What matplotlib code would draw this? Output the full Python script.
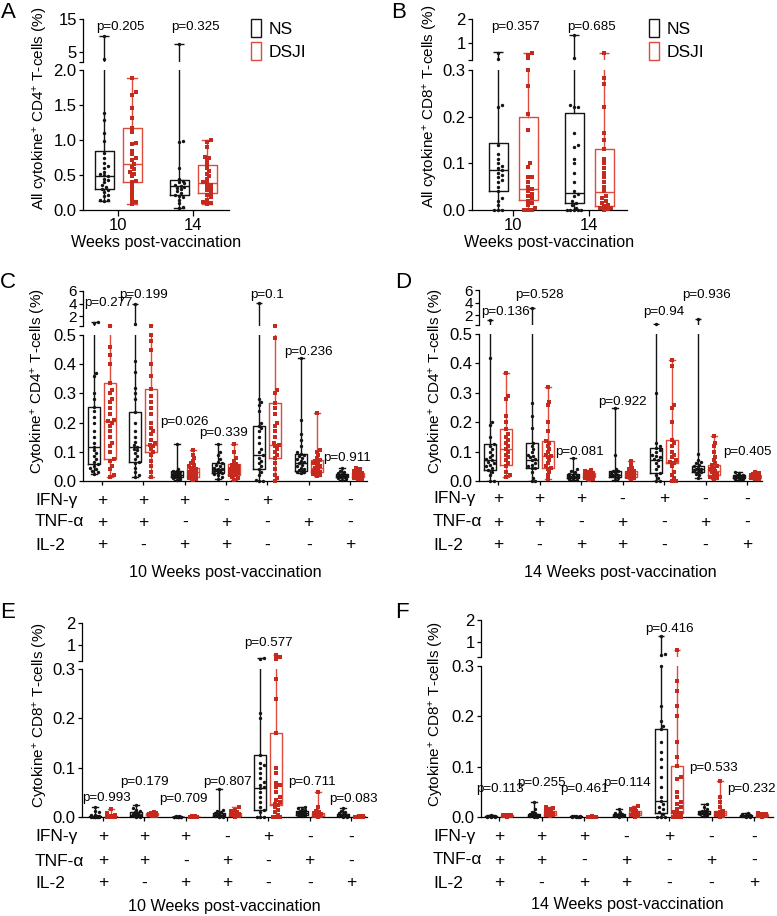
import numpy as np
import matplotlib
matplotlib.use('Agg')
import matplotlib.pyplot as plt
from matplotlib.patches import Patch
import matplotlib.transforms as mtransforms

plt.rcParams['font.family'] = ['Liberation Sans', 'DejaVu Sans']
plt.rcParams['mathtext.fontset'] = 'custom'
plt.rcParams['mathtext.rm'] = 'Liberation Sans'
plt.rcParams['mathtext.it'] = 'Liberation Sans:italic'
plt.rcParams['mathtext.bf'] = 'Liberation Sans:bold'
plt.rcParams['axes.linewidth'] = 0.9

# ------------------------------------------------------------------ data
series_names = ['NS', 'DSJI']

# Panel A : all cytokine+ CD4+ T-cells
A_groups = ['10', '14']
A_yticks = ['0.0', '0.5', '1.0', '1.5', '2.0']
A_top_ticks = ['5', '15']
A_NS_box = [[0.13, 0.30, 0.49, 0.84, 9.8], [0.025, 0.22, 0.34, 0.43, 7.4]]
A_DSJI_box = [[0.09, 0.40, 0.66, 1.17, 1.88], [0.09, 0.24, 0.38, 0.64, 1.0]]
A_NS_pts = [
    [0.13, 0.14, 0.15, 0.2, 0.22, 0.26, 0.28, 0.3, 0.33, 0.36, 0.4, 0.43, 0.45, 0.48,
     0.5, 0.52, 0.55, 0.6, 0.63, 0.67, 0.74, 0.81, 0.99, 1.1, 1.29, 1.39, 2.9, 9.8],
    [0.025, 0.05, 0.1, 0.15, 0.18, 0.2, 0.22, 0.24, 0.27, 0.3, 0.32, 0.33, 0.35, 0.36,
     0.38, 0.4, 0.42, 0.45, 0.6, 0.97, 0.98, 7.4]]
A_DSJI_pts = [
    [0.09, 0.12, 0.15, 0.2, 0.25, 0.3, 0.35, 0.4, 0.42, 0.48, 0.52, 0.55, 0.58, 0.62,
     0.66, 0.72, 0.75, 0.8, 0.85, 0.95, 0.96, 1.12, 1.17, 1.31, 1.46, 1.65, 1.68, 1.88],
    [0.09, 0.1, 0.12, 0.15, 0.18, 0.22, 0.25, 0.28, 0.3, 0.33, 0.36, 0.38, 0.4, 0.44,
     0.48, 0.52, 0.56, 0.6, 0.65, 0.7, 0.74, 0.76, 0.9, 0.97, 1.0]]
A_p = ['p=0.205', 'p=0.325']

# Panel B : all cytokine+ CD8+ T-cells
B_groups = ['10', '14']
B_yticks = ['0.0', '0.1', '0.2', '0.3']
B_top_ticks = ['1', '2']
B_NS_box = [[0.0, 0.041, 0.086, 0.143, 0.62], [0.0, 0.014, 0.037, 0.207, 1.34]]
B_DSJI_box = [[0.0, 0.021, 0.046, 0.199, 0.59], [0.0, 0.009, 0.038, 0.131, 0.59]]
B_NS_pts = [
    [0.0, 0.0, 0.0, 0.01, 0.02, 0.025, 0.04, 0.05, 0.06, 0.065, 0.07, 0.075, 0.08, 0.085,
     0.09, 0.095, 0.1, 0.11, 0.12, 0.14, 0.22, 0.225, 0.36, 0.6],
    [0.0, 0.0, 0.0, 0.0, 0.0, 0.005, 0.01, 0.015, 0.02, 0.03, 0.035, 0.04, 0.06, 0.08,
     0.1, 0.11, 0.135, 0.14, 0.165, 0.22, 0.22, 0.224, 0.38, 1.34]]
B_DSJI_pts = [
    [0.0, 0.0, 0.0, 0.005, 0.01, 0.015, 0.02, 0.025, 0.03, 0.035, 0.04, 0.045, 0.05, 0.06,
     0.07, 0.07, 0.093, 0.1, 0.171, 0.205, 0.266, 0.3, 0.38, 0.52, 0.59],
    [0.0, 0.002, 0.005, 0.005, 0.008, 0.01, 0.015, 0.02, 0.025, 0.03, 0.04, 0.05, 0.06,
     0.07, 0.08, 0.09, 0.1, 0.11, 0.13, 0.15, 0.165, 0.22, 0.27, 0.282, 0.59]]
B_p = ['p=0.357', 'p=0.685']

# Cytokine combinations (panels C-F)
cytokine_rows = ['IFN-γ', 'TNF-α', 'IL-2']
IFN_signs = ['+', '+', '+', '-', '+', '-', '-']
TNF_signs = ['+', '+', '-', '+', '-', '+', '-']
IL2_signs = ['+', '-', '+', '+', '-', '-', '+']
CD4_yticks = ['0.0', '0.1', '0.2', '0.3', '0.4', '0.5']
CD4_top_ticks = ['2', '4', '6']
CD8_yticks = ['0.0', '0.1', '0.2', '0.3']
CD8_top_ticks = ['1', '2']

# Panel C : CD4, 10 weeks
C_NS_box = [[0.025, 0.057, 0.117, 0.252, 1.1], [0.015, 0.065, 0.117, 0.237, 3.9],
            [0.005, 0.014, 0.021, 0.033, 0.126], [0.008, 0.028, 0.04, 0.06, 0.128],
            [0.0, 0.04, 0.088, 0.19, 4.1], [0.028, 0.035, 0.06, 0.093, 0.42],
            [0.005, 0.012, 0.017, 0.024, 0.045]]
C_DSJI_box = [[0.014, 0.077, 0.206, 0.334, 0.55], [0.014, 0.1, 0.122, 0.315, 0.55],
              [0.003, 0.013, 0.03, 0.045, 0.105], [0.005, 0.022, 0.035, 0.058, 0.127],
              [0.0, 0.08, 0.122, 0.268, 0.55], [0.016, 0.03, 0.045, 0.072, 0.233],
              [0.006, 0.012, 0.018, 0.027, 0.045]]
C_NS_pts = [
    [0.025, 0.03, 0.035, 0.04, 0.045, 0.05, 0.057, 0.065, 0.075, 0.085, 0.095, 0.105, 0.117,
     0.13, 0.15, 0.17, 0.2, 0.22, 0.24, 0.252, 0.28, 0.3, 0.36, 0.37, 1.0, 1.1],
    [0.015, 0.02, 0.03, 0.045, 0.06, 0.065, 0.075, 0.085, 0.095, 0.105, 0.11, 0.117, 0.125,
     0.135, 0.15, 0.17, 0.2, 0.237, 0.28, 0.3, 0.32, 0.375, 0.41, 0.75, 3.9],
    [0.005, 0.008, 0.01, 0.012, 0.014, 0.015, 0.016, 0.018, 0.02, 0.021, 0.022, 0.024, 0.025,
     0.027, 0.03, 0.032, 0.033, 0.035, 0.04, 0.126],
    [0.008, 0.015, 0.02, 0.025, 0.028, 0.03, 0.033, 0.035, 0.038, 0.04, 0.042, 0.045, 0.05,
     0.055, 0.06, 0.065, 0.075, 0.09, 0.1, 0.128],
    [0.0, 0.0, 0.005, 0.02, 0.03, 0.04, 0.05, 0.06, 0.07, 0.08, 0.088, 0.1, 0.11, 0.13, 0.15,
     0.17, 0.18, 0.19, 0.2, 0.24, 0.26, 0.27, 0.28, 4.1],
    [0.028, 0.03, 0.032, 0.035, 0.038, 0.04, 0.045, 0.05, 0.055, 0.06, 0.065, 0.07, 0.075,
     0.08, 0.085, 0.09, 0.093, 0.1, 0.12, 0.14, 0.16, 0.21, 0.42],
    [0.005, 0.008, 0.01, 0.012, 0.013, 0.015, 0.016, 0.017, 0.018, 0.02, 0.022, 0.024, 0.027,
     0.03, 0.035, 0.045]]
C_DSJI_pts = [
    [0.014, 0.02, 0.04, 0.05, 0.07, 0.077, 0.1, 0.12, 0.13, 0.15, 0.17, 0.19, 0.2, 0.206,
     0.21, 0.23, 0.25, 0.27, 0.28, 0.3, 0.31, 0.334, 0.4, 0.43, 0.46, 0.55],
    [0.014, 0.03, 0.05, 0.07, 0.09, 0.1, 0.11, 0.12, 0.122, 0.13, 0.14, 0.16, 0.17, 0.18,
     0.2, 0.23, 0.25, 0.27, 0.29, 0.315, 0.36, 0.4, 0.45, 0.48, 0.5, 0.55],
    [0.003, 0.008, 0.01, 0.013, 0.015, 0.018, 0.02, 0.025, 0.028, 0.03, 0.032, 0.035, 0.04,
     0.042, 0.045, 0.05, 0.055, 0.06, 0.07, 0.08, 0.09, 0.105],
    [0.005, 0.01, 0.015, 0.02, 0.022, 0.025, 0.028, 0.03, 0.035, 0.038, 0.04, 0.045, 0.05,
     0.055, 0.058, 0.07, 0.08, 0.1, 0.127],
    [0.0, 0.01, 0.02, 0.04, 0.06, 0.08, 0.09, 0.1, 0.11, 0.12, 0.122, 0.13, 0.15, 0.17, 0.19,
     0.2, 0.23, 0.25, 0.268, 0.3, 0.31, 0.49, 0.55],
    [0.016, 0.02, 0.025, 0.03, 0.032, 0.035, 0.04, 0.045, 0.05, 0.055, 0.06, 0.065, 0.07,
     0.072, 0.08, 0.09, 0.1, 0.105, 0.233],
    [0.006, 0.008, 0.01, 0.012, 0.014, 0.016, 0.018, 0.02, 0.022, 0.025, 0.027, 0.03, 0.035,
     0.04, 0.045]]
C_p = ['p=0.277', 'p=0.199', 'p=0.026', 'p=0.339', 'p=0.1', 'p=0.236', 'p=0.911']

# Panel D : CD4, 14 weeks
D_NS_box = [[0.0, 0.039, 0.07, 0.125, 1.25], [0.0, 0.043, 0.07, 0.13, 3.15],
            [0.002, 0.01, 0.015, 0.025, 0.078], [0.003, 0.015, 0.02, 0.033, 0.249],
            [0.0, 0.027, 0.07, 0.112, 0.7], [0.01, 0.03, 0.04, 0.05, 1.5],
            [0.004, 0.01, 0.014, 0.02, 0.03]]
D_DSJI_box = [[0.012, 0.053, 0.11, 0.178, 0.366], [0.008, 0.043, 0.085, 0.136, 0.32],
              [0.005, 0.012, 0.018, 0.028, 0.038], [0.006, 0.015, 0.023, 0.035, 0.068],
              [0.0, 0.061, 0.065, 0.141, 0.41], [0.006, 0.022, 0.035, 0.055, 0.153],
              [0.006, 0.011, 0.015, 0.022, 0.03]]
D_NS_pts = [
    [0.0, 0.0, 0.02, 0.03, 0.039, 0.045, 0.05, 0.055, 0.06, 0.065, 0.07, 0.075, 0.08, 0.09,
     0.1, 0.11, 0.12, 0.125, 0.15, 0.19, 0.2, 0.42, 1.25],
    [0.0, 0.0, 0.01, 0.03, 0.043, 0.045, 0.05, 0.055, 0.06, 0.07, 0.075, 0.08, 0.085, 0.09,
     0.1, 0.11, 0.12, 0.13, 0.18, 0.22, 0.265, 3.15],
    [0.002, 0.005, 0.008, 0.01, 0.012, 0.014, 0.015, 0.017, 0.02, 0.022, 0.025, 0.03, 0.035,
     0.04, 0.078],
    [0.003, 0.01, 0.015, 0.018, 0.02, 0.022, 0.025, 0.028, 0.03, 0.033, 0.035, 0.04, 0.09,
     0.249],
    [0.0, 0.0, 0.01, 0.02, 0.027, 0.04, 0.05, 0.06, 0.07, 0.075, 0.08, 0.085, 0.09, 0.1,
     0.105, 0.112, 0.12, 0.13, 0.3, 0.7],
    [0.01, 0.02, 0.025, 0.03, 0.032, 0.035, 0.038, 0.04, 0.042, 0.045, 0.05, 0.055, 0.06,
     0.065, 0.07, 0.092, 1.5],
    [0.004, 0.006, 0.008, 0.01, 0.012, 0.013, 0.014, 0.016, 0.018, 0.02, 0.022, 0.025, 0.03]]
D_DSJI_pts = [
    [0.012, 0.02, 0.03, 0.05, 0.06, 0.07, 0.08, 0.09, 0.1, 0.11, 0.12, 0.13, 0.14, 0.15,
     0.16, 0.178, 0.2, 0.22, 0.28, 0.29, 0.366],
    [0.008, 0.02, 0.03, 0.04, 0.045, 0.05, 0.06, 0.07, 0.08, 0.085, 0.09, 0.1, 0.11, 0.12,
     0.13, 0.136, 0.17, 0.2, 0.26, 0.27, 0.32],
    [0.005, 0.008, 0.01, 0.012, 0.014, 0.016, 0.018, 0.02, 0.022, 0.025, 0.028, 0.03, 0.035,
     0.038],
    [0.006, 0.01, 0.015, 0.018, 0.02, 0.022, 0.025, 0.028, 0.03, 0.035, 0.04, 0.045, 0.055,
     0.068],
    [0.0, 0.0, 0.01, 0.02, 0.03, 0.05, 0.06, 0.065, 0.07, 0.08, 0.09, 0.1, 0.12, 0.13, 0.141,
     0.2, 0.25, 0.26, 0.39, 0.41],
    [0.006, 0.01, 0.015, 0.02, 0.025, 0.03, 0.035, 0.04, 0.045, 0.05, 0.055, 0.06, 0.07,
     0.08, 0.1, 0.12, 0.13, 0.153],
    [0.006, 0.008, 0.01, 0.011, 0.013, 0.015, 0.017, 0.019, 0.022, 0.025, 0.028, 0.03]]
D_p = ['p=0.136', 'p=0.528', 'p=0.081', 'p=0.922', 'p=0.94', 'p=0.936', 'p=0.405']

# Panel E : CD8, 10 weeks
E_NS_box = [[0.0, 0.0, 0.001, 0.003, 0.02], [0.0, 0.002, 0.005, 0.01, 0.025],
            [0.0, 0.0, 0.0005, 0.001, 0.002], [0.0, 0.002, 0.004, 0.008, 0.056],
            [0.0, 0.015, 0.058, 0.126, 0.45], [0.002, 0.005, 0.008, 0.012, 0.02],
            [0.0, 0.001, 0.003, 0.006, 0.019]]
E_DSJI_box = [[0.0, 0.0, 0.001, 0.003, 0.017], [0.002, 0.004, 0.006, 0.008, 0.01],
              [0.0, 0.0, 0.0005, 0.001, 0.002], [0.0, 0.002, 0.005, 0.009, 0.02],
              [0.0, 0.024, 0.027, 0.171, 0.55], [0.0, 0.003, 0.006, 0.009, 0.05],
              [0.0, 0.001, 0.001, 0.002, 0.003]]
E_NS_pts = [
    [0.0, 0.0, 0.0, 0.0, 0.001, 0.001, 0.002, 0.003, 0.004, 0.005, 0.01, 0.012, 0.02],
    [0.0, 0.001, 0.002, 0.003, 0.004, 0.005, 0.006, 0.007, 0.008, 0.01, 0.012, 0.015, 0.018,
     0.025],
    [0.0, 0.0, 0.0, 0.0005, 0.0005, 0.001, 0.001, 0.001, 0.0015, 0.002],
    [0.0, 0.001, 0.002, 0.003, 0.004, 0.005, 0.006, 0.008, 0.01, 0.012, 0.015, 0.056],
    [0.0, 0.0, 0.0, 0.01, 0.015, 0.02, 0.03, 0.04, 0.05, 0.058, 0.06, 0.065, 0.07, 0.08,
     0.09, 0.1, 0.105, 0.11, 0.126, 0.2, 0.21, 0.38, 0.45],
    [0.002, 0.004, 0.005, 0.006, 0.007, 0.008, 0.009, 0.01, 0.011, 0.012, 0.014, 0.016,
     0.018, 0.02],
    [0.0, 0.001, 0.002, 0.003, 0.004, 0.005, 0.006, 0.008, 0.01, 0.012, 0.019]]
E_DSJI_pts = [
    [0.0, 0.0, 0.0, 0.001, 0.002, 0.003, 0.005, 0.008, 0.017],
    [0.002, 0.003, 0.004, 0.005, 0.005, 0.006, 0.006, 0.007, 0.007, 0.008, 0.008, 0.009,
     0.01],
    [0.0, 0.0, 0.0, 0.0005, 0.0005, 0.001, 0.001, 0.001, 0.0015, 0.002],
    [0.0, 0.002, 0.004, 0.005, 0.006, 0.008, 0.01, 0.012, 0.015, 0.02],
    [0.0, 0.0, 0.0, 0.005, 0.01, 0.015, 0.02, 0.024, 0.027, 0.03, 0.035, 0.04, 0.05, 0.06,
     0.065, 0.068, 0.09, 0.1, 0.171, 0.24, 0.28, 0.4, 0.5, 0.55],
    [0.0, 0.002, 0.003, 0.004, 0.005, 0.006, 0.007, 0.008, 0.01, 0.012, 0.02, 0.05],
    [0.0, 0.0, 0.001, 0.001, 0.001, 0.002, 0.002, 0.003]]
E_p = ['p=0.993', 'p=0.179', 'p=0.709', 'p=0.807', 'p=0.577', 'p=0.711', 'p=0.083']

# Panel F : CD8, 14 weeks
F_NS_box = [[0.0, 0.0005, 0.001, 0.002, 0.003], [0.0, 0.001, 0.003, 0.006, 0.03],
            [0.0, 0.0, 0.0005, 0.001, 0.002], [0.0, 0.001, 0.003, 0.006, 0.016],
            [0.0, 0.007, 0.031, 0.174, 1.25], [0.002, 0.005, 0.008, 0.011, 0.025],
            [0.0, 0.001, 0.002, 0.004, 0.008]]
F_DSJI_box = [[0.0, 0.001, 0.002, 0.003, 0.004], [0.001, 0.004, 0.007, 0.012, 0.02],
              [0.0, 0.0, 0.0003, 0.0006, 0.001], [0.0, 0.004, 0.007, 0.012, 0.022],
              [0.0, 0.007, 0.008, 0.101, 0.61], [0.0, 0.003, 0.007, 0.012, 0.072],
              [0.0, 0.002, 0.004, 0.006, 0.008]]
F_NS_pts = [
    [0.0, 0.0, 0.0005, 0.001, 0.001, 0.001, 0.002, 0.002, 0.003],
    [0.0, 0.0, 0.001, 0.002, 0.003, 0.004, 0.005, 0.006, 0.008, 0.01, 0.015, 0.03],
    [0.0, 0.0, 0.0, 0.0005, 0.001, 0.001, 0.001, 0.002],
    [0.0, 0.001, 0.002, 0.003, 0.004, 0.005, 0.006, 0.008, 0.01, 0.016],
    [0.0, 0.0, 0.0, 0.005, 0.01, 0.015, 0.02, 0.025, 0.031, 0.04, 0.06, 0.08, 0.1, 0.115,
     0.13, 0.15, 0.174, 0.18, 0.19, 0.22, 0.3, 0.38, 0.45, 1.25],
    [0.002, 0.004, 0.005, 0.006, 0.007, 0.008, 0.009, 0.01, 0.011, 0.012, 0.015, 0.02, 0.025],
    [0.0, 0.0, 0.001, 0.002, 0.002, 0.003, 0.004, 0.006, 0.008]]
F_DSJI_pts = [
    [0.0, 0.001, 0.001, 0.002, 0.002, 0.003, 0.003, 0.004],
    [0.001, 0.003, 0.004, 0.006, 0.007, 0.008, 0.01, 0.012, 0.015, 0.018, 0.02],
    [0.0, 0.0, 0.0, 0.0003, 0.0005, 0.001],
    [0.0, 0.002, 0.004, 0.005, 0.007, 0.009, 0.012, 0.015, 0.018, 0.022],
    [0.0, 0.0, 0.0, 0.003, 0.005, 0.007, 0.008, 0.01, 0.015, 0.02, 0.025, 0.03, 0.04, 0.05,
     0.075, 0.08, 0.101, 0.12, 0.15, 0.2, 0.22, 0.25, 0.27, 0.61],
    [0.0, 0.002, 0.003, 0.005, 0.007, 0.008, 0.01, 0.012, 0.02, 0.03, 0.04, 0.072],
    [0.0, 0.001, 0.002, 0.003, 0.004, 0.005, 0.006, 0.008]]
F_p = ['p=0.113', 'p=0.255', 'p=0.461', 'p=0.114', 'p=0.416', 'p=0.533', 'p=0.232']

# ------------------------------------------------------------------ layout (pixels)
W, H = 777, 916
fig = plt.figure(figsize=(W / 100, H / 100), dpi=100)
BLACK = '#141414'
RED_BOX = '#dc4b3b'
RED_PT = '#c62a1e'

LAYOUT = {
    'A': dict(x0=83, x1=229, c0=118, c1=193, bot=(70, 210), top=(19, 62),
              bmax=2.0, tmax=15.0, tvals=[5, 15], bvals=[0, 0.5, 1.0, 1.5, 2.0],
              goff=14, bw=19, pys=[27, 27], pdx=[2, 2], letter=(8, 12), ylab=(40, 108),
              tfs=12, ylabel='All cytokine$^{+}$ CD4$^{+}$ T-cells (%)'),
    'B': dict(x0=472, x1=627, c0=513, c1=589, bot=(70, 210), top=(19, 60),
              bmax=0.3, tmax=2.0, tvals=[1, 2], bvals=[0, 0.1, 0.2, 0.3],
              goff=15, bw=19, pys=[27, 27], pdx=[2, 3], letter=(399, 12), ylab=(431, 106),
              tfs=12, ylabel='All cytokine$^{+}$ CD8$^{+}$ T-cells (%)'),
    'C': dict(x0=83, x1=367, c0=102, c1=350, bot=(335, 481), top=(291, 326),
              bmax=0.5, tmax=6.0, tvals=[2, 4, 6], bvals=[0, 0.1, 0.2, 0.3, 0.4, 0.5],
              goff=8, bw=12, pys=[303, 295, 422, 433, 295, 352, 458],
              pdx=[6, 0, 0, -2, 0, 0, -3], letter=(8, 282),
              ylab=(39, 381), rows=[500, 522, 545], rowx=35, title=573, tfs=11,
              ylabel='Cytokine$^{+}$ CD4$^{+}$ T-cells (%)'),
    'D': dict(x0=479, x1=762, c0=498, c1=747, bot=(334, 481), top=(290, 325),
              bmax=0.5, tmax=6.0, tvals=[2, 4, 6], bvals=[0, 0.1, 0.2, 0.3, 0.4, 0.5],
              goff=8, bw=12, pys=[312, 295, 452, 402, 312, 295, 452],
              pdx=[8, 0, -2, 0, 0, 1, 0], letter=(403, 282),
              ylab=(436, 381), rows=[499, 522, 545], rowx=433, title=573, tfs=11,
              ylabel='Cytokine$^{+}$ CD4$^{+}$ T-cells (%)'),
    'E': dict(x0=82, x1=367, c0=103, c1=351, bot=(669, 817), top=(623, 661),
              bmax=0.3, tmax=2.0, tvals=[1, 2], bvals=[0, 0.1, 0.2, 0.3],
              goff=8, bw=12, pys=[798, 782, 799, 782, 643, 782, 799],
              pdx=[4, 0, -2, 0, 0, 2, 2], letter=(8, 612),
              ylab=(40, 715), rows=[837, 861, 883], rowx=35, title=907, tfs=12,
              ylabel='Cytokine$^{+}$ CD8$^{+}$ T-cells (%)'),
    'F': dict(x0=481, x1=773, c0=499, c1=754, bot=(666, 817), top=(620, 657),
              bmax=0.3, tmax=2.0, tvals=[1, 2], bvals=[0, 0.1, 0.2, 0.3],
              goff=8, bw=12, pys=[789, 783, 789, 783, 629, 768, 789],
              pdx=[1, 0, 0, 0, 0, 2, -3], letter=(402, 612),
              ylab=(436, 714), rows=[837, 860, 883], rowx=433, title=905, tfs=12,
              ylabel='Cytokine$^{+}$ CD8$^{+}$ T-cells (%)'),
}

TICK_FS = 12
ROW_FS = 12.5
TITLE_FS = 11.6
P_FS = 9.6
LAB_FS = 11
LW = 1.0


def fx(px):
    return px / W


def fy(py):
    return 1 - py / H


def make_axes(x0, x1, ytop, ybot):
    return fig.add_axes([x0 / W, 1 - ybot / H, (x1 - x0) / W, (ybot - ytop) / H])


def swarm_offsets(ypx, d, maxoff):
    ypx = np.asarray(ypx, float)
    order = np.argsort(-ypx)
    offs = np.zeros(len(ypx))
    placed = []
    step = d * 0.55
    cands = [0.0]
    k = 1
    while k * step <= maxoff:
        cands += [k * step, -k * step]
        k += 1
    for i in order:
        y = ypx[i]
        best, bestscore = 0.0, -1.0
        for c in cands:
            mind = min((np.hypot(c - px, y - py) for px, py in placed), default=99.0)
            if mind >= d:
                best = c
                break
            if mind > bestscore:
                bestscore, best = mind, c
        offs[i] = best
        placed.append((best, y))
    return offs


def style_axis(ax):
    ax.spines['top'].set_visible(False)
    ax.spines['right'].set_visible(False)
    ax.tick_params(axis='both', direction='out', length=3, width=0.9,
                   labelsize=TICK_FS, pad=1.5, colors='black')


def draw_panel(key, ns_box, dsji_box, ns_pts, dsji_pts, pvals, ytick_labels,
               top_tick_labels, xlabels=None, signs=None, title=None, legend=False):
    L = LAYOUT[key]
    n = len(ns_box)
    sp = (L['c1'] - L['c0']) / (n - 1)
    xl = ((L['x0'] - L['c0']) / sp, (L['x1'] - L['c0']) / sp)
    axb = make_axes(L['x0'], L['x1'], L['bot'][0], L['bot'][1])
    axt = make_axes(L['x0'], L['x1'], L['top'][0], L['top'][1])
    bmax = L['bmax']
    axb.set_ylim(0, bmax)
    axt.set_ylim(bmax, L['tmax'])
    for ax in (axb, axt):
        ax.set_xlim(*xl)
        style_axis(ax)
        ax.patch.set_alpha(0)
    axt.spines['bottom'].set_visible(False)
    axt.set_xticks([])
    axt.set_yticks([bmax] + L['tvals'])
    axt.set_yticklabels([''] + top_tick_labels)
    axt.tick_params(axis='y', labelsize=L['tfs'])
    axb.set_yticks(L['bvals'])
    axb.set_yticklabels(ytick_labels)
    axb.set_xticks(np.arange(n))
    if xlabels is not None:
        axb.set_xticklabels(xlabels)
        axb.tick_params(axis='x', length=4)
    else:
        axb.set_xticklabels([''] * n)
        axb.tick_params(axis='x', length=3)

    def to_px(v):
        v = np.asarray(v, float)
        b0, b1 = L['bot']
        t0, t1 = L['top']
        low = b1 - v / bmax * (b1 - b0)
        high = t1 - (v - bmax) / (L['tmax'] - bmax) * (t1 - t0)
        return np.where(v <= bmax, low, high)

    goff = L['goff'] / sp
    bw = L['bw'] / sp
    for boxes, pts, sgn, bcol, pcol, mk in (
            (ns_box, ns_pts, -1, BLACK, BLACK, 'o'),
            (dsji_box, dsji_pts, 1, RED_BOX, RED_PT, 's')):
        stats = [dict(whislo=b[0], q1=b[1], med=b[2], q3=b[3], whishi=min(b[4], bmax))
                 for b in boxes]
        pos = np.arange(n) + sgn * goff
        showcap = [b[4] <= bmax for b in boxes]
        art = axb.bxp(stats, positions=pos, widths=bw, capwidths=bw * 0.5,
                      showfliers=False, manage_ticks=False,
                      boxprops=dict(color=bcol, lw=LW),
                      whiskerprops=dict(color=bcol, lw=LW),
                      capprops=dict(color=bcol, lw=LW),
                      medianprops=dict(color=bcol, lw=LW))
        for i, show in enumerate(showcap):
            if not show:
                art['caps'][2 * i + 1].set_visible(False)
        for i, b in enumerate(boxes):
            if b[4] > bmax:
                axt.vlines(pos[i], bmax, b[4], color=bcol, lw=LW)
                axt.hlines(b[4], pos[i] - bw * 0.25, pos[i] + bw * 0.25, color=bcol, lw=LW)
        for i, vals in enumerate(pts):
            vals = np.asarray(vals, float)
            offs = swarm_offsets(to_px(vals), 3.3, L['bw'] * 0.45) / sp
            xs = pos[i] + offs
            lo = vals <= bmax
            size = 6 if mk == 'o' else 5.5
            axb.scatter(xs[lo], vals[lo], s=size, marker=mk, color=pcol,
                        linewidths=0, zorder=3, clip_on=False)
            axt.scatter(xs[~lo], vals[~lo], s=size, marker=mk, color=pcol,
                        linewidths=0, zorder=3, clip_on=False)

    trans = mtransforms.blended_transform_factory(axb.transData, fig.transFigure)
    for i, p in enumerate(pvals):
        fig.text(i + L['pdx'][i] / sp, fy(L['pys'][i]), p, transform=trans,
                 ha='center', va='center', fontsize=P_FS)

    fig.text(fx(L['letter'][0]), fy(L['letter'][1]), key, fontsize=16,
             ha='center', va='center')
    fig.text(fx(L['ylab'][0]), fy(L['ylab'][1]), L['ylabel'], rotation=90,
             ha='center', va='center', fontsize=LAB_FS)

    if signs is not None:
        for r, (rname, row) in enumerate(zip(cytokine_rows, signs)):
            yy = fy(L['rows'][r])
            fig.text(fx(L['rowx']), yy, rname, ha='left', va='center', fontsize=ROW_FS)
            for i, s in enumerate(row):
                fig.text(i, yy, s, transform=trans, ha='center', va='center',
                         fontsize=ROW_FS)
        fig.text(fx((L['x0'] + L['x1']) / 2), fy(L['title']), title,
                 ha='center', va='center', fontsize=TITLE_FS)
    else:
        fig.text(fx((L['x0'] + L['x1']) / 2), fy(242), 'Weeks post-vaccination',
                 ha='center', va='center', fontsize=TITLE_FS)

    if legend:
        handles = [Patch(facecolor='none', edgecolor=BLACK, lw=LW, label=series_names[0]),
                   Patch(facecolor='none', edgecolor=RED_BOX, lw=LW, label=series_names[1])]
        lx = L['x1'] + 22
        axb.legend(handles=handles, loc='upper left', bbox_to_anchor=(fx(lx), fy(19)),
                   bbox_transform=fig.transFigure, frameon=False, fontsize=12.5,
                   handlelength=0.55, handleheight=1.2, handletextpad=0.45,
                   labelspacing=0.3, borderpad=0, borderaxespad=0)
    return axb, axt


signs = [IFN_signs, TNF_signs, IL2_signs]
draw_panel('A', A_NS_box, A_DSJI_box, A_NS_pts, A_DSJI_pts, A_p, A_yticks, A_top_ticks,
           xlabels=A_groups, legend=True)
draw_panel('B', B_NS_box, B_DSJI_box, B_NS_pts, B_DSJI_pts, B_p, B_yticks, B_top_ticks,
           xlabels=B_groups, legend=True)
draw_panel('C', C_NS_box, C_DSJI_box, C_NS_pts, C_DSJI_pts, C_p, CD4_yticks, CD4_top_ticks,
           signs=signs, title='10 Weeks post-vaccination')
draw_panel('D', D_NS_box, D_DSJI_box, D_NS_pts, D_DSJI_pts, D_p, CD4_yticks, CD4_top_ticks,
           signs=signs, title='14 Weeks post-vaccination')
draw_panel('E', E_NS_box, E_DSJI_box, E_NS_pts, E_DSJI_pts, E_p, CD8_yticks, CD8_top_ticks,
           signs=signs, title='10 Weeks post-vaccination')
draw_panel('F', F_NS_box, F_DSJI_box, F_NS_pts, F_DSJI_pts, F_p, CD8_yticks, CD8_top_ticks,
           signs=signs, title='14 Weeks post-vaccination')

fig.savefig('out.png', dpi=100)
